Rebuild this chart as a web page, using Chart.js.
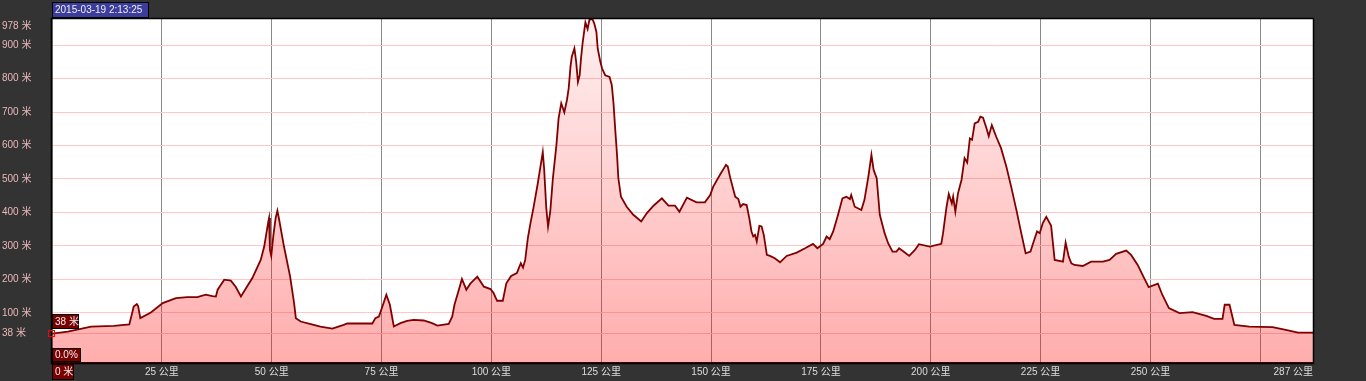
<!DOCTYPE html>
<html>
<head>
<meta charset="utf-8">
<script src="https://cdn.jsdelivr.net/npm/chart.js@4.4.1/dist/chart.umd.min.js"></script>
<style>
html, body { margin: 0; padding: 0; background: #333333; overflow: hidden; }
</style>
</head>
<body>
<canvas id="profil" width="1366" height="381"></canvas>
<script>
// distance along the track (km) and elevation (m)
var distanceKm = [0, 3.6, 8.9, 14.1, 17.6, 18.6, 19.3, 19.6, 20.1, 22.5, 25.2, 28.2, 30.8, 33.1, 35, 36.5, 37.3, 37.7, 39.2, 40.7,
    41.8, 43, 44.5, 45.6, 47.5, 48.3, 49.2, 49.4, 49.6, 49.9, 50.4, 50.9, 51.3, 51.7, 52.8, 54.2, 55.1, 55.5, 56.6, 58.9,
    61.1, 63.8, 66.4, 67.2, 72.9, 73.6, 74.4, 75.2, 76.1, 76.9, 77.8, 79.3, 80.8, 82.3, 84.6, 86.5, 87.7, 90.3, 91.1, 91.6,
    92.6, 93.3, 94.3, 95.2, 96.8, 98.3, 99.8, 100.5, 101.3, 102.6, 103.4, 104.5, 105.8, 106.7, 107.2, 107.7, 108.3, 108.9, 109.6, 110.5,
    111.3, 111.7, 112.0, 112.5, 112.9, 113.4, 114.0, 114.8, 115.3, 115.9, 116.6, 117.2, 117.6, 118.0, 118.3, 118.9, 119.3, 119.7, 120.1, 120.4,
    120.8, 121.4, 121.9, 122.3, 123.0, 123.4, 123.9, 124.2, 124.8, 125.2, 125.9, 126.9, 127.4, 127.8, 128.2, 128.6, 128.9, 129.5, 130.8, 132.3,
    134.1, 135.4, 136.9, 138.8, 140.3, 141.8, 142.8, 144.5, 146.7, 148.6, 149.8, 150.5, 152.0, 153.4, 153.8, 154.3, 154.9, 155.5, 156.2, 156.7,
    157.3, 158.1, 158.7, 159.2, 159.6, 160.0, 160.4, 161.0, 161.5, 162.0, 162.7, 163.4, 164.5, 165.7, 167.2, 169.5, 171.4, 173.2, 174.2, 175.5,
    176.3, 177.0, 177.8, 178.9, 179.9, 180.8, 181.6, 181.9, 182.7, 184.2, 184.9, 185.8, 186.5, 187.0, 187.7, 188.4, 189.5, 190.3, 191.3, 192.2,
    192.8, 194.1, 195.1, 196.4, 197.3, 199.8, 202.4, 202.8, 203.6, 204.1, 204.8, 205.1, 205.6, 206.2, 207.0, 207.7, 208.3, 208.9, 209.4, 210.0,
    210.8, 211.3, 211.9, 212.7, 213.2, 213.9, 214.9, 216.0, 217.2, 218.3, 219.5, 220.6, 221.6, 222.7, 223.3, 224.2, 224.8, 225.5, 226.3, 227.4,
    228.2, 230.1, 230.7, 231.4, 232.0, 232.7, 234.6, 236.5, 239.2, 240.7, 242.2, 244.5, 245.6, 247.1, 248.4, 249.6, 251.7, 252.7, 254.2, 256.6,
    259.6, 262.7, 264.5, 266.4, 266.9, 268.0, 269.1, 272.5, 277.8, 280.8, 283.6, 287];
var elevationM = [38, 44, 59, 61, 65, 119, 126, 120, 84, 101, 129, 144, 147, 147, 154, 150, 149, 169, 199, 196,
    178, 149, 181, 204, 258, 298, 370, 383, 288, 270, 333, 383, 405, 378, 298, 208, 129, 84, 74, 66,
    59, 53, 64, 68, 68, 84, 89, 119, 154, 124, 59, 69, 76, 79, 77, 69, 62, 67, 89, 124,
    169, 201, 169, 187, 208, 178, 171, 159, 136, 136, 188, 210, 219, 248, 235, 258, 323, 368, 415, 482,
    547, 580, 532, 413, 358, 402, 502, 601, 681, 726, 699, 736, 771, 835, 865, 890, 850, 790, 810, 860,
    910, 968, 948, 975, 978, 965, 940, 890, 850, 830, 810, 805, 781, 726, 646, 572, 502, 447, 417, 393,
    373, 398, 420, 442, 420, 420, 402, 444, 430, 430, 452, 477, 512, 542, 537, 507, 477, 447, 440, 417,
    425, 422, 383, 343, 328, 333, 313, 360, 358, 333, 273, 270, 263, 251, 270, 280, 293, 306, 293, 306,
    328, 320, 343, 393, 442, 447, 440, 452, 417, 407, 437, 507, 572, 527, 502, 393, 338, 308, 283, 283,
    293, 280, 270, 288, 305, 298, 306, 338, 417, 455, 427, 447, 402, 457, 497, 562, 549, 621, 617, 666,
    671, 686, 683, 651, 628, 661, 626, 592, 537, 477, 407, 338, 278, 283, 308, 343, 338, 368, 387, 360,
    258, 253, 310, 268, 248, 243, 240, 253, 253, 258, 276, 286, 273, 243, 208, 177, 187, 154, 114, 99,
    102, 91, 82, 82, 124, 124, 64, 59, 57, 49, 41, 41];

var yTicks = [38, 100, 200, 300, 400, 500, 600, 700, 800, 900, 978];
var xTicks = [0, 25, 50, 75, 100, 125, 150, 175, 200, 225, 250, 275];
var maxElev = 978;
var totalKm = 287;
var dateText = '2015-03-19 2:13:25';

var labelFont = "'Liberation Sans', 'Noto Sans CJK SC', sans-serif";
var yLabelColor = '#eab8b8';

var points = distanceKm.map(function(d, i) { return { x: d, y: elevationM[i] }; });

function box(ctx, x, y, w, h, bg, text) {
    ctx.fillStyle = bg;
    ctx.fillRect(x, y, w, h);
    ctx.strokeStyle = '#000';
    ctx.lineWidth = 1;
    ctx.strokeRect(x + 0.5, y + 0.5, w - 1, h - 1);
    ctx.fillStyle = '#eeeeee';
    ctx.textAlign = 'left';
    ctx.textBaseline = 'middle';
    ctx.fillText(text, x + 3, y + h / 2 + 0.5);
}

var decor = {
    id: 'decor',
    beforeDraw: function(chart) {
        var a = chart.chartArea, ctx = chart.ctx;
        ctx.save();
        ctx.fillStyle = '#ffffff';
        ctx.fillRect(a.left, a.top, a.right - a.left, a.bottom - a.top);
        ctx.restore();
    },
    afterDraw: function(chart) {
        var a = chart.chartArea, ctx = chart.ctx;
        ctx.save();
        ctx.strokeStyle = '#000';
        ctx.lineWidth = 1.5;
        ctx.strokeRect(a.left - 0.5, a.top - 0.5, a.right - a.left + 1, a.bottom - a.top + 1);

        ctx.font = '10px ' + labelFont;
        // top tick label sits a little below the top edge
        ctx.fillStyle = yLabelColor;
        ctx.textAlign = 'left';
        ctx.textBaseline = 'middle';
        ctx.fillText(maxElev + ' 米', 2, chart.scales.y.getPixelForValue(maxElev) + 7);

        box(ctx, 52, 2, 97, 16, '#3c3c9c', dateText);
        box(ctx, 52, 314, 27, 15, '#7a0000', '38 米');
        box(ctx, 52, 348, 29, 14, '#7a0000', '0.0%');
        box(ctx, 52, 364, 22, 16, '#7a0000', '0 米');

        // label for the end of the track
        ctx.fillStyle = '#dddddd';
        ctx.textAlign = 'right';
        ctx.textBaseline = 'middle';
        ctx.fillText(totalKm + ' 公里', a.right, 372);

        // start marker
        var yS = chart.scales.y.getPixelForValue(elevationM[0]);
        ctx.strokeStyle = '#ff0000';
        ctx.lineWidth = 1;
        ctx.strokeRect(48.5, Math.round(yS) - 3.5, 6, 6);
        ctx.restore();
    }
};

new Chart(document.getElementById('profil'), {
    type: 'line',
    data: {
        datasets: [{
            data: points,
            borderColor: '#800000',
            borderWidth: 1.8,
            pointRadius: 0,
            tension: 0,
            fill: 'start',
            backgroundColor: function(context) {
                var a = context.chart.chartArea;
                if (!a) return 'rgba(255,0,0,0.2)';
                var g = context.chart.ctx.createLinearGradient(0, a.top, 0, a.bottom);
                g.addColorStop(0, 'rgba(255,0,0,0.06)');
                g.addColorStop(1, 'rgba(255,0,0,0.32)');
                return g;
            }
        }]
    },
    options: {
        responsive: false,
        animation: false,
        layout: { padding: { left: 2, top: 19, right: 53, bottom: 0 } },
        plugins: { legend: { display: false }, tooltip: { enabled: false } },
        scales: {
            x: {
                type: 'linear',
                min: 0,
                max: totalKm,
                afterBuildTicks: function(scale) {
                    scale.ticks = xTicks.map(function(v) { return { value: v }; });
                },
                afterFit: function(scale) { scale.height = 18; },
                grid: {
                    drawTicks: false,
                    color: function(c) { return c.tick && c.tick.value === 0 ? 'rgba(0,0,0,0)' : '#8a8a8a'; },
                    lineWidth: 1
                },
                border: { color: '#000', width: 1.5 },
                ticks: {
                    autoSkip: false,
                    maxRotation: 0,
                    padding: 3,
                    color: '#dddddd',
                    font: { family: labelFont, size: 10 },
                    callback: function(v) { return (v === 0 || v >= 275) ? '' : v + ' 公里'; }
                }
            },
            y: {
                min: -50,
                max: maxElev,
                afterBuildTicks: function(scale) {
                    scale.ticks = yTicks.map(function(v) { return { value: v }; });
                },
                afterFit: function(scale) { scale.width = 50; },
                grid: {
                    drawTicks: false,
                    color: function(c) { return c.tick && c.tick.value === maxElev ? 'rgba(0,0,0,0)' : '#ffc8c8'; },
                    lineWidth: 1
                },
                border: { color: '#000', width: 1.5 },
                ticks: {
                    autoSkip: false,
                    crossAlign: 'far',
                    color: yLabelColor,
                    font: { family: labelFont, size: 10 },
                    callback: function(v) { return v === maxElev ? '' : v + ' 米'; }
                }
            }
        }
    },
    plugins: [decor]
});
</script>
</body>
</html>
